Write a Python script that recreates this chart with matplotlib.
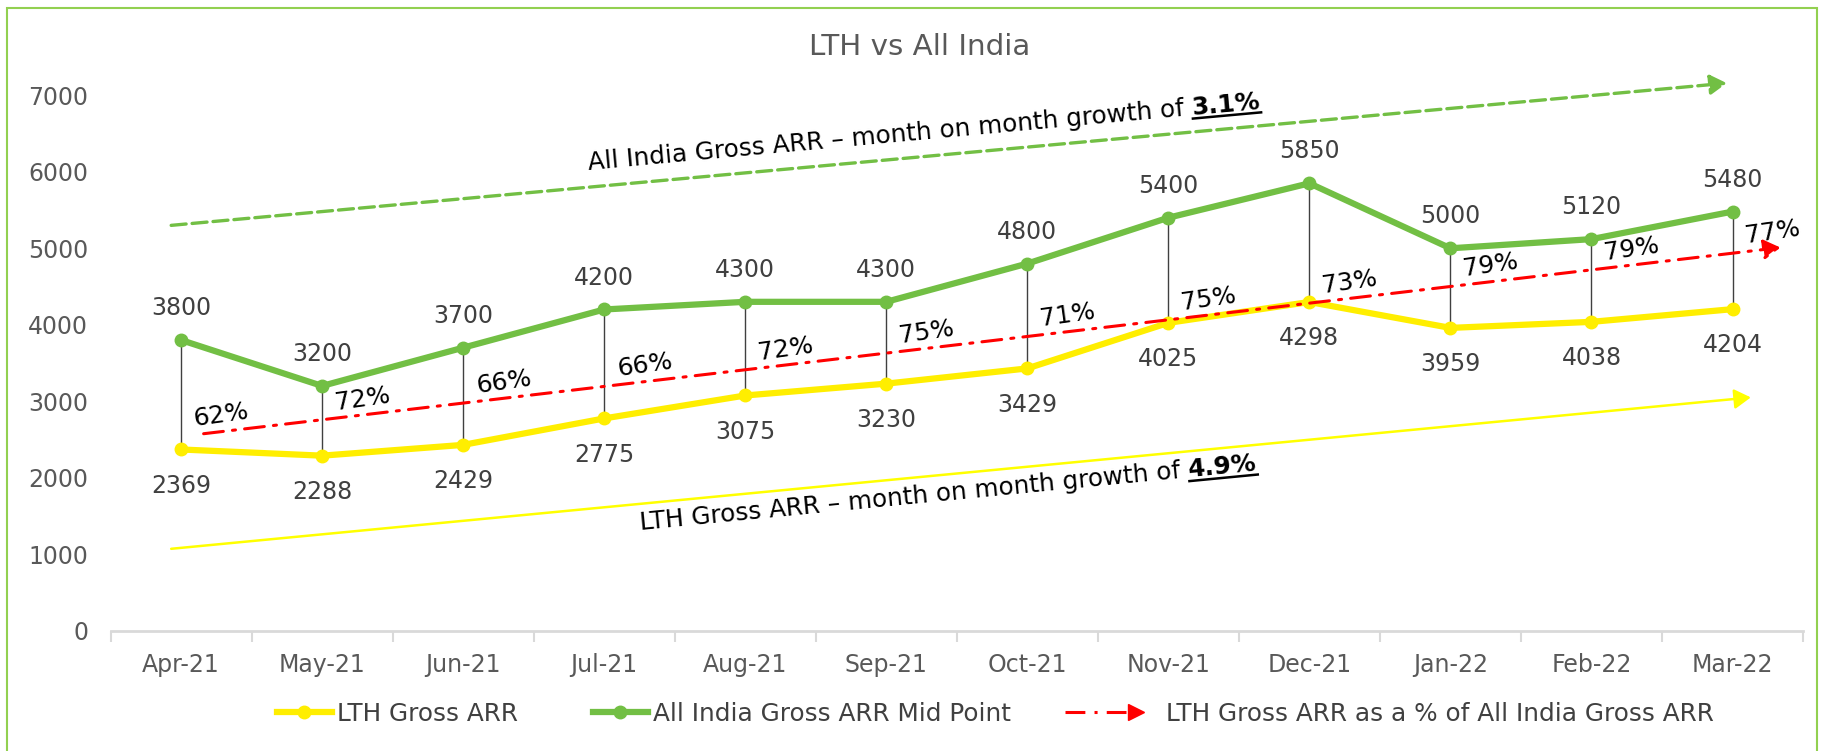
import numpy as np
import matplotlib
matplotlib.use("Agg")
import matplotlib.pyplot as plt
from matplotlib.lines import Line2D
from matplotlib.patches import Rectangle
from matplotlib.legend_handler import HandlerBase
from matplotlib.transforms import IdentityTransform

months = ["Apr-21", "May-21", "Jun-21", "Jul-21", "Aug-21", "Sep-21",
          "Oct-21", "Nov-21", "Dec-21", "Jan-22", "Feb-22", "Mar-22"]
lth = [2369, 2288, 2429, 2775, 3075, 3230, 3429, 4025, 4298, 3959, 4038, 4204]
india = [3800, 3200, 3700, 4200, 4300, 4300, 4800, 5400, 5850, 5000, 5120, 5480]
pct = [62, 72, 66, 66, 72, 75, 71, 75, 73, 79, 79, 77]

# hand drawn trend arrows (start, end) in data units
india_trend = [(-0.07, 5300), (10.96, 7160)]
lth_trend = [(-0.07, 1070), (11.13, 3050)]
pct_trend = [(0.16, 2575), (11.34, 5010)]

GREEN = "#72BF44"
YELLOW = "#FFEE00"
GREY = "#595959"
DARK = "#404040"
FS = 17.8

plt.rcParams["font.family"] = ["DejaVu Sans"]

fig = plt.figure(figsize=(18.24, 7.51), dpi=100)
ax = fig.add_axes([0.0606, 0.1603, 0.9279, 0.7127])
x = np.arange(len(months))

ax.vlines(x, lth, india, color=DARK, lw=1, zorder=2)
ax.plot(x, india, color=GREEN, lw=4.5, marker="o", ms=9, zorder=3)
ax.plot(x, lth, color=YELLOW, lw=4.5, marker="o", ms=9, zorder=3)

for i, v in enumerate(india):
    ax.annotate(str(v), (i, v), xytext=(0, 23), textcoords="offset points",
                ha="center", va="center", fontsize=17, color=DARK)
for i, v in enumerate(lth):
    ax.annotate(str(v), (i, v), xytext=(0, -26), textcoords="offset points",
                ha="center", va="center", fontsize=17, color=DARK)

# trend arrows
def arrow(pts, color, ls, lw):
    ax.annotate("", xy=pts[1], xytext=pts[0],
                arrowprops=dict(arrowstyle="-|>,head_length=0.5,head_width=0.3",
                                mutation_scale=20, color=color, lw=lw, linestyle=ls,
                                shrinkA=0, shrinkB=0),
                annotation_clip=False, zorder=4)

arrow(india_trend, GREEN, (0, (4.5, 1.8)), 2.4)
arrow(lth_trend, "#FFFF00", "-", 1.8)
arrow(pct_trend, "#FF0000", (0, (6.5, 3, 1, 3)), 2.2)

# percent labels sit above the red trend line
slope = (pct_trend[1][1] - pct_trend[0][1]) / (pct_trend[1][0] - pct_trend[0][0])
for i, p in enumerate(pct):
    yt = pct_trend[0][1] + slope * (i - pct_trend[0][0])
    ax.annotate(f"{p}%", (i, yt), xytext=(29, 15), textcoords="offset points",
                ha="center", va="center", fontsize=18, color="black", rotation=8)

ax.set_xlim(-0.5, 11.5)
ax.set_ylim(0, 7000)
ax.set_xticks(x)
ax.set_xticklabels(months)
ax.set_xticks(np.arange(-0.5, 12, 1), minor=True)
ax.set_yticks(range(0, 8000, 1000))
ax.tick_params(axis="both", which="major", length=0, labelsize=17, labelcolor=GREY)
ax.tick_params(axis="x", which="major", pad=16)
ax.tick_params(axis="y", which="major", pad=16)
ax.tick_params(axis="x", which="minor", length=8, width=1.5, color="#D9D9D9")
for s in ["top", "right", "left"]:
    ax.spines[s].set_visible(False)
ax.spines["bottom"].set_color("#D9D9D9")
ax.spines["bottom"].set_linewidth(2)

fig.text(0.504, 0.938, "LTH vs All India", ha="center", va="center",
         fontsize=21.2, color=GREY)

# growth notes with bold underlined figure
renderer = fig.canvas.get_renderer()

def text_width(s, **kw):
    t = ax.text(0, 0, s, fontsize=FS, **kw)
    w = t.get_window_extent(renderer).width
    t.remove()
    return w

space_w = text_width("a b") - text_width("ab")

def growth_note(x0, y0, plain, bold, ang):
    ax.text(x0, y0, plain, rotation=ang, rotation_mode="anchor", ha="left",
            va="baseline", fontsize=FS, color="black")
    w = text_width(plain) + space_w
    wb = text_width(bold, fontweight="bold")
    c, s = np.cos(np.radians(ang)), np.sin(np.radians(ang))
    k = 72 / fig.dpi
    ax.annotate(bold, (x0, y0), xytext=(w * k * c, w * k * s), textcoords="offset points",
                rotation=ang, rotation_mode="anchor", ha="left", va="baseline",
                fontsize=FS, fontweight="bold", color="black")
    px, py = ax.transData.transform((x0, y0))
    d = 4
    xs = [px + w * c + d * s, px + (w + wb) * c + d * s]
    ys = [py + w * s - d * c, py + (w + wb) * s - d * c]
    fig.add_artist(Line2D(xs, ys, color="black", lw=1.8, transform=IdentityTransform()))

growth_note(2.89, 6030, "All India Gross ARR \u2013 month on month growth of", "3.1%", 5.2)
growth_note(3.26, 1317, "LTH Gross ARR \u2013 month on month growth of", "4.9%", 5.5)

# legend, one entry per box so each sits where the reference has it
class ArrowHandler(HandlerBase):
    def create_artists(self, legend, orig_handle, xdescent, ydescent, width, height,
                       fontsize, trans):
        y = height / 2 - ydescent
        x0 = -xdescent
        line = Line2D([x0, x0 + width - 13], [y, y], color="red", lw=2.2,
                      linestyle=(0, (6.5, 3, 1, 3)), transform=trans)
        head = Line2D([x0 + width - 6], [y], marker=">", color="red", ms=12, lw=0,
                      transform=trans)
        return [line, head]

legend_y = 1 - 714 / 751
entries = [
    (Line2D([], [], color=YELLOW, lw=4.5, marker="o", ms=9), "LTH Gross ARR",
     277, 2.22, 0.2),
    (Line2D([], [], color=GREEN, lw=4.5, marker="o", ms=9), "All India Gross ARR Mid Point",
     593, 2.22, 0.2),
    (Line2D([], [], color="red"), "LTH Gross ARR as a % of All India Gross ARR",
     1065, 3.2, 0.9),
]
for h, lab, x_px, hl, tp in entries:
    leg = fig.legend([h], [lab], loc="center left", bbox_to_anchor=(x_px / 1824, legend_y),
                     frameon=False, fontsize=FS, labelcolor=DARK, handlelength=hl,
                     handletextpad=tp, borderpad=0, borderaxespad=0,
                     handler_map={entries[2][0]: ArrowHandler()})

fig.add_artist(Rectangle((7 / 1824, -0.05), 1810 / 1824, 1.05 - 8 / 751,
                         transform=fig.transFigure, fill=False,
                         edgecolor="#92D050", lw=1.5))

fig.savefig("out.png", dpi=100)
